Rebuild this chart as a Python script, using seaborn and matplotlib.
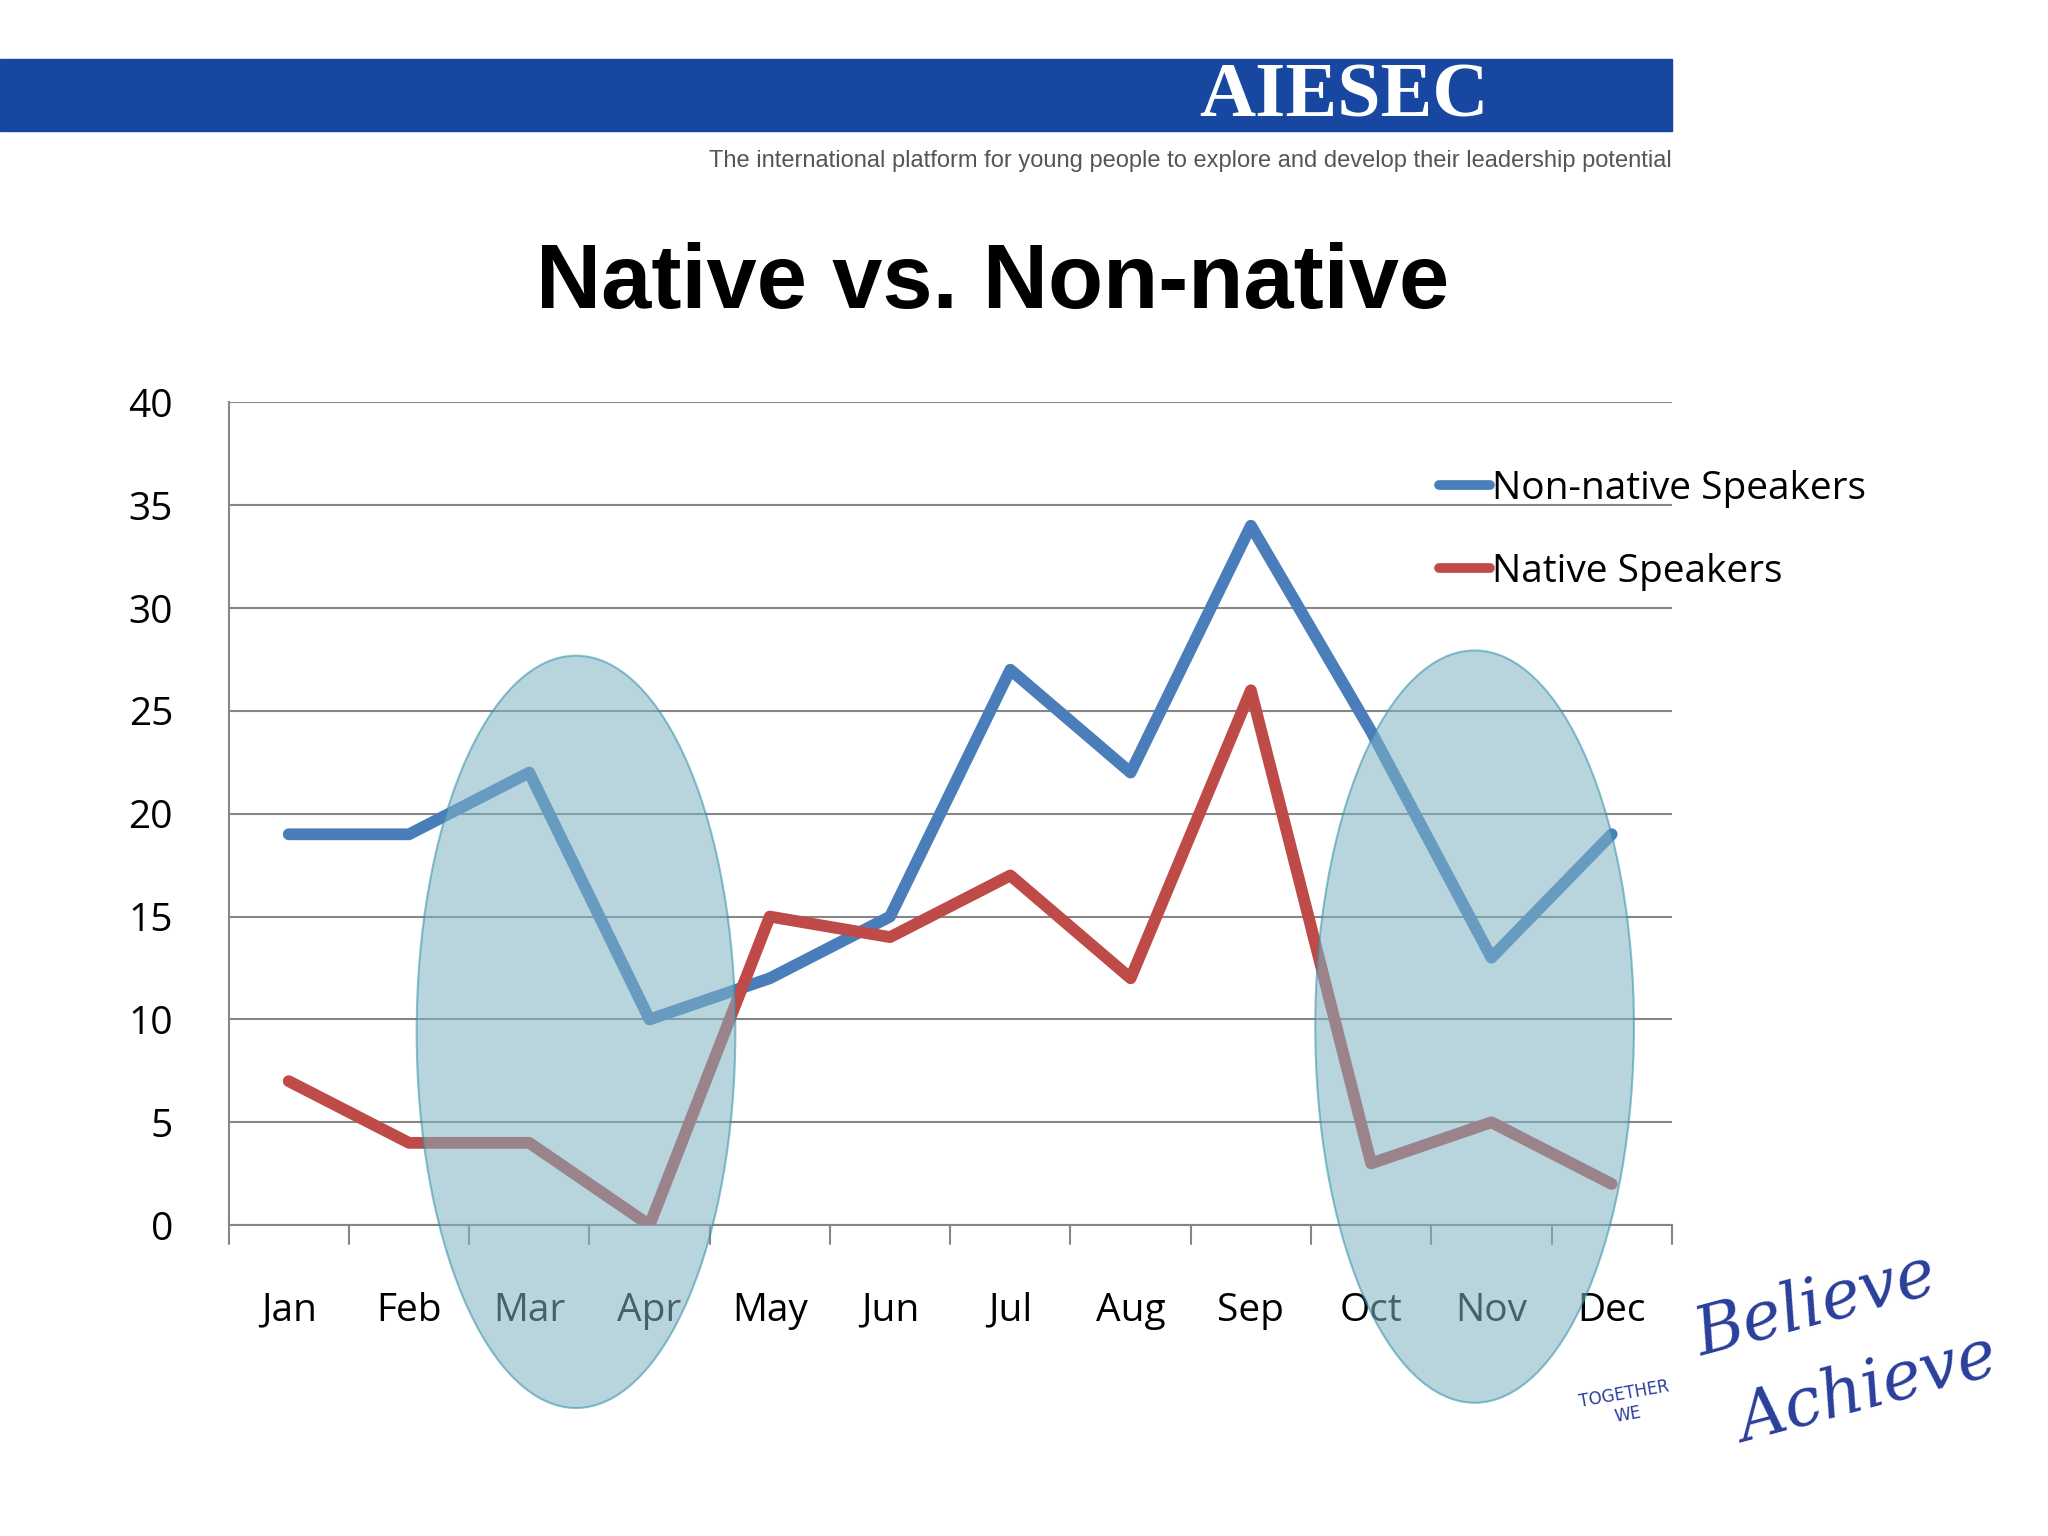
import matplotlib as mpl
mpl.use('Agg')
import matplotlib.pyplot as plt
import matplotlib.patches as mpatches
import numpy as np
import pandas as pd
import seaborn as sb

months = ['Jan', 'Feb', 'Mar', 'Apr', 'May', 'Jun', 'Jul', 'Aug', 'Sep', 'Oct', 'Nov', 'Dec']
non_native = [19, 19, 22, 10, 12, 15, 27, 22, 34, 24, 13, 19]
native = [7, 4, 4, 0, 15, 14, 17, 12, 26, 3, 5, 2]
series_names = ['Non-native Speakers', 'Native Speakers']
series_colors = ['#4a7ebb', '#be4b48']

sb.set_style('white')
plt.rcParams['font.family'] = ['Open Sans', 'DejaVu Sans']
plt.rcParams['text.color'] = 'black'
plt.rcParams['xtick.color'] = 'black'
plt.rcParams['ytick.color'] = 'black'

df = pd.DataFrame({'month': months * 2,
                   'x': list(range(12)) * 2,
                   'value': non_native + native,
                   'series': [series_names[0]] * 12 + [series_names[1]] * 12})

W, H = 1568.0, 1176.0
fig = plt.figure(figsize=(20.48, 15.36), dpi=100)
ax = fig.add_axes([175 / W, 1 - 938 / H, (1280 - 175) / W, (938 - 308) / H])

sb.lineplot(data=df, x='x', y='value', hue='series', palette=series_colors,
            linewidth=8.5, ax=ax, legend=False, zorder=3)

ax.set_xlim(-0.5, 11.5)
ax.set_ylim(0, 40)
ax.set_yticks(np.arange(0, 41, 5))
ax.set_xticks(np.arange(12))
ax.set_xticklabels(months)
ax.tick_params(axis='x', length=0, pad=48, labelsize=28)
ax.tick_params(axis='y', length=0, pad=40, labelsize=28)
for b in np.arange(-0.5, 12, 1):
    ax.plot([b, b], [0, -0.9], color='#868686', lw=1.5, clip_on=False)
ax.grid(axis='y', color='#868686', lw=1.5)
ax.set_axisbelow(True)
for s in ['top', 'right']:
    ax.spines[s].set_visible(False)
ax.spines['left'].set_color('#868686')
ax.spines['bottom'].set_color('#868686')
ax.spines['left'].set_linewidth(1.5)
ax.spines['bottom'].set_linewidth(1.5)
ax.set_xlabel('')
ax.set_ylabel('')

# legend
handles = [plt.Line2D([], [], color=c, lw=7) for c in series_colors]
fig.legend(handles, series_names, loc='upper left', bbox_to_anchor=(1075 / W, 1 - 333 / H),
           frameon=False, fontsize=28, handlelength=1.3, handletextpad=0.05, labelspacing=1.15)

# highlight ellipses
for cx, cy in [(441, 790), (1129, 786)]:
    e = mpatches.Ellipse((cx / W, 1 - cy / H), 244 / W, 576 / H, transform=fig.transFigure,
                         facecolor='#7fb3c4', alpha=0.55, edgecolor='#2e8fa8', lw=1.5, zorder=5)
    fig.patches.append(e)

# header band
fig.patches.append(mpatches.Rectangle((0, 1 - 100 / H), 1280 / W, 55 / H, transform=fig.transFigure,
                                      color='#1747a0', zorder=1))
fig.text(1140 / W, 1 - 75 / H, 'AIESEC', ha='right', va='center', fontsize=56, fontweight='bold',
         family='Liberation Serif', color='white')
fig.text(1280 / W, 1 - 123 / H, 'The international platform for young people to explore and develop their leadership potential',
         ha='right', va='center', fontsize=17, color='#555555', family='Liberation Sans')

fig.text(760 / W, 1 - 218 / H, 'Native vs. Non-native', ha='center', va='center', fontsize=65,
         fontweight='bold', family='Liberation Sans')

# logo
fig.text(1390 / W, 1 - 1000 / H, 'Believe', fontsize=48, style='italic', color='#2a3f9a',
         rotation=15, ha='center', va='center', family='DejaVu Serif')
fig.text(1430 / W, 1 - 1065 / H, 'Achieve', fontsize=48, style='italic', color='#2a3f9a',
         rotation=15, ha='center', va='center', family='DejaVu Serif')
fig.text(1245 / W, 1 - 1075 / H, 'TOGETHER\nWE', fontsize=12, color='#2a3f9a',
         rotation=10, ha='center', va='center', family='DejaVu Sans')

fig.savefig('out.png', dpi=100)
